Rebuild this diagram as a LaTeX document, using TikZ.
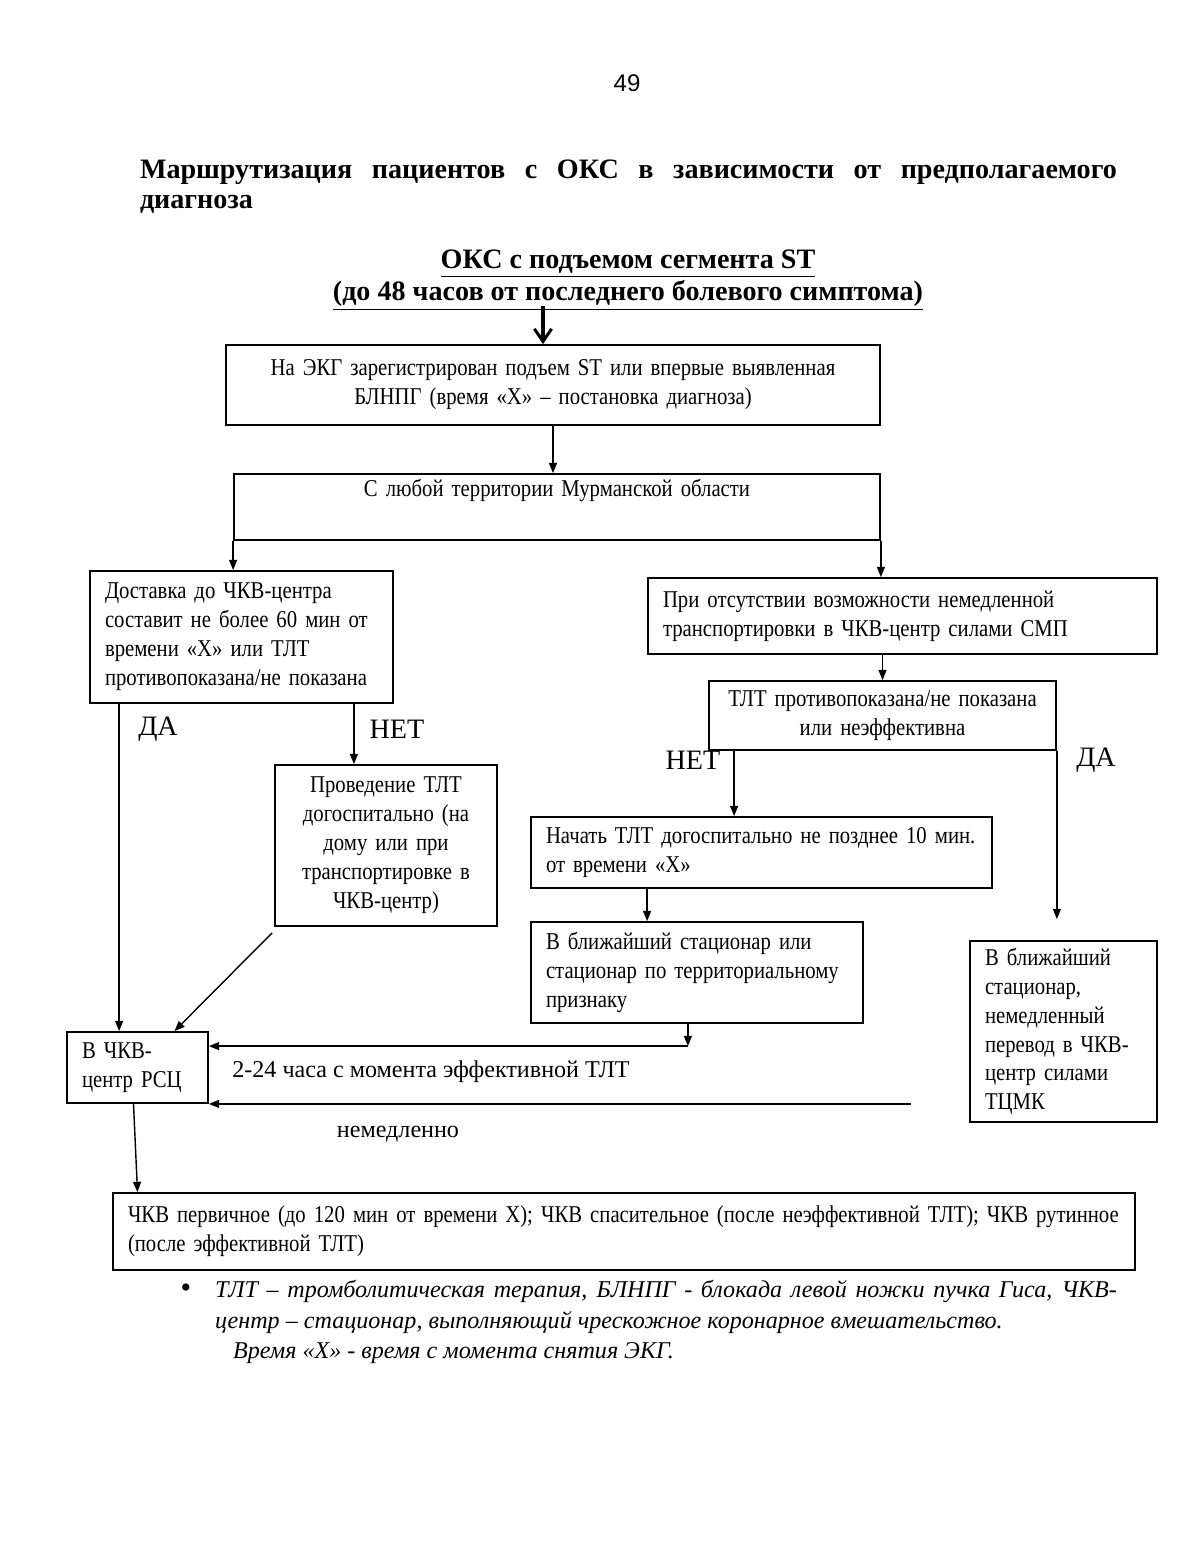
\documentclass[tikz,border=0pt]{standalone}
\usepackage{fontspec}
\setmainfont{Liberation Serif}
\setsansfont{Liberation Sans}
\newfontfamily\boxfam[FakeStretch=0.86,WordSpace=0.9]{Liberation Serif}
\usetikzlibrary{positioning,arrows.meta,calc}

\newcommand{\boxfont}{\boxfam\fontsize{12}{14.4}\selectfont}

\begin{document}
\begin{tikzpicture}[x=0.175mm,y=-0.175mm,
  box/.style={draw, line width=0.9pt, inner xsep=2.625mm, inner ysep=0pt, font=\boxfont},
  arr/.style={-{Triangle[length=1.8mm,width=1.4mm]}, line width=0.7pt},
  yesno/.style={font=\fontsize{14}{16}\selectfont, inner sep=0pt},
  plain/.style={font=\fontsize{12}{14.4}\selectfont, inner sep=0pt}]
  \fill[white] (0,0) rectangle (1200,1553);
  \useasboundingbox (0,0) rectangle (1200,1553);

  \node[font=\sffamily\fontsize{12}{14}\selectfont] (pg) at (627,83) {49};
  \node[font=\bfseries\fontsize{14}{15}\selectfont, text width=170.975mm, align=justify, inner sep=0pt] (title) at (628.5,187)
    {Маршрутизация пациентов с ОКС в зависимости от предполагаемого\linebreak диагноза};
  \node[font=\bfseries\fontsize{14}{16}\selectfont, align=center, inner sep=0pt] (head) at (628,280)
    {\underline{ОКС с подъемом сегмента ST}\\\underline{(до 48 часов от последнего болевого симптома)}};

  % boxes
  \node[box, minimum width=114.45mm, minimum height=14mm, text width=109.2mm, align=center] (ecg) at (553,385)
    {На ЭКГ зарегистрирован подъем ST или впервые выявленная\\БЛНПГ (время «Х» – постановка диагноза)};
  \node[box, minimum width=113.05mm, minimum height=11.55mm, text width=107.8mm, align=center] (region) at (557,507)
    {С любой территории Мурманской области\\\strut};
  \node[box, minimum width=53.025mm, minimum height=23.1mm, text width=47.775mm, align=left] (deliv) at (241.5,637)
    {Доставка до ЧКВ-центра\\составит не более 60 мин от\\времени «Х» или ТЛТ\\противопоказана/не показана};
  \node[box, minimum width=38.85mm, minimum height=28.175mm, text width=33.6mm, align=center] (tlt) at (386,845.5)
    {Проведение ТЛТ\\догоспитально (на\\дому или при\\транспортировке в\\ЧКВ-центр)};
  \node[box, minimum width=89.075mm, minimum height=13.3mm, text width=83.825mm, align=left] (nocap) at (902.5,616)
    {При отсутствии возможности немедленной\\транспортировки в ЧКВ-центр силами СМП};
  \node[box, minimum width=60.725mm, minimum height=12.075mm, text width=55.475mm, align=center] (contra) at (882.5,715.5)
    {ТЛТ противопоказана/не показана\\или неэффективна};
  \node[box, minimum width=80.675mm, minimum height=12.425mm, text width=75.425mm, align=left] (start) at (761.5,852.5)
    {Начать ТЛТ догоспитально не позднее 10~мин.\\от времени «Х»};
  \node[box, minimum width=58.1mm, minimum height=17.675mm, text width=52.85mm, align=left] (near) at (697,972.5)
    {В ближайший стационар или\\стационар по территориальному\\признаку};
  \node[box, minimum width=32.725mm, minimum height=31.675mm, text width=27.475mm, align=left] (tcmk) at (1063.5,1031.5)
    {В ближайший\\стационар,\\немедленный\\перевод в ЧКВ-\\центр силами\\ТЦМК};
  \node[box, minimum width=24.675mm, minimum height=12.425mm, text width=19.425mm, align=left] (rsc) at (137.5,1067.5)
    {В ЧКВ-\\центр РСЦ};
  \node[box, minimum width=178.85mm, minimum height=13.475mm, text width=173.6mm, align=left] (pci) at (624,1231.5)
    {ЧКВ первичное (до 120 мин от времени X); ЧКВ спасительное (после неэффективной ТЛТ); ЧКВ рутинное\\(после эффективной ТЛТ)};

  % labels
  \node[yesno] (yes1) at (158,729) {ДА};
  \node[yesno] (no1) at (397,729) {НЕТ};
  \node[yesno] (no2) at (693,760) {НЕТ};
  \node[yesno] (yes2) at (1096,760) {ДА};
  \node[plain] (hrs) at (431,1072) {2-24 часа с момента эффективной ТЛТ};
  \node[plain] (imm) at (398,1134) {немедленно};

  % connectors
  \draw[line width=1.5pt, -{Straight Barb[length=2.2mm,width=3mm]}] ([shift={(-85,-5)}]head.south) -- ([shift={(-10,0)}]ecg.north);
  \draw[arr] (ecg.south) -- (ecg.south |- region.north);
  \draw[arr] (region.south west) -- (region.south west |- deliv.north);
  \draw[arr] (region.south east) -- (region.south east |- nocap.north);
  \coordinate (dy) at ([shift={(30,0)}]deliv.south west);
  \coordinate (dn) at ([shift={(-40,0)}]deliv.south east);
  \draw[arr] (dy) -- (dy |- rsc.north);
  \draw[arr] (dn) -- (dn |- tlt.north);
  \draw[arr] ([shift={(-2,6)}]tlt.south west) -- ([shift={(37,0)}]rsc.north);
  \draw[arr] (contra.north |- nocap.south) -- (contra.north);
  \coordinate (cn) at ([shift={(26,0)}]contra.south west);
  \draw[arr] (cn) -- (cn |- start.north);
  \coordinate (cy) at (contra.south east |- tcmk.north);
  \draw[arr] (contra.south east) -- ([shift={(0,-21)}]cy);
  \coordinate (sn) at ([shift={(117,0)}]start.south west);
  \draw[arr] (sn) -- (sn |- near.north);
  \coordinate (nb) at ([shift={(-176,0)}]near.south east);
  \coordinate (rin) at ([shift={(0,15)}]rsc.north east);
  \draw[arr] (nb) -- (nb |- rin);
  \draw[arr] (nb |- rin) -- (rin);
  \coordinate (immst) at ([shift={(702,0)}]rsc.south east);
  \draw[arr] (immst) -- (rsc.south east);
  \draw[arr] ([shift={(-4,0)}]rsc.south) -- (rsc.south |- pci.north);

  % footnote
  \node[font=\fontsize{15}{15}\selectfont, inner sep=0pt] (bul) at (186,1291) {•};
  \node[font=\itshape\fontsize{12}{15.2}\selectfont, text width=157.85mm, align=justify, inner sep=0pt] (fn) at (666,1322)
    {ТЛТ – тромболитическая терапия, БЛНПГ - блокада левой ножки пучка Гиса, ЧКВ-\linebreak центр – стационар, выполняющий чрескожное коронарное вмешательство.\\\hspace*{9pt}Время «Х» - время с момента снятия ЭКГ.};
\end{tikzpicture}
\end{document}
